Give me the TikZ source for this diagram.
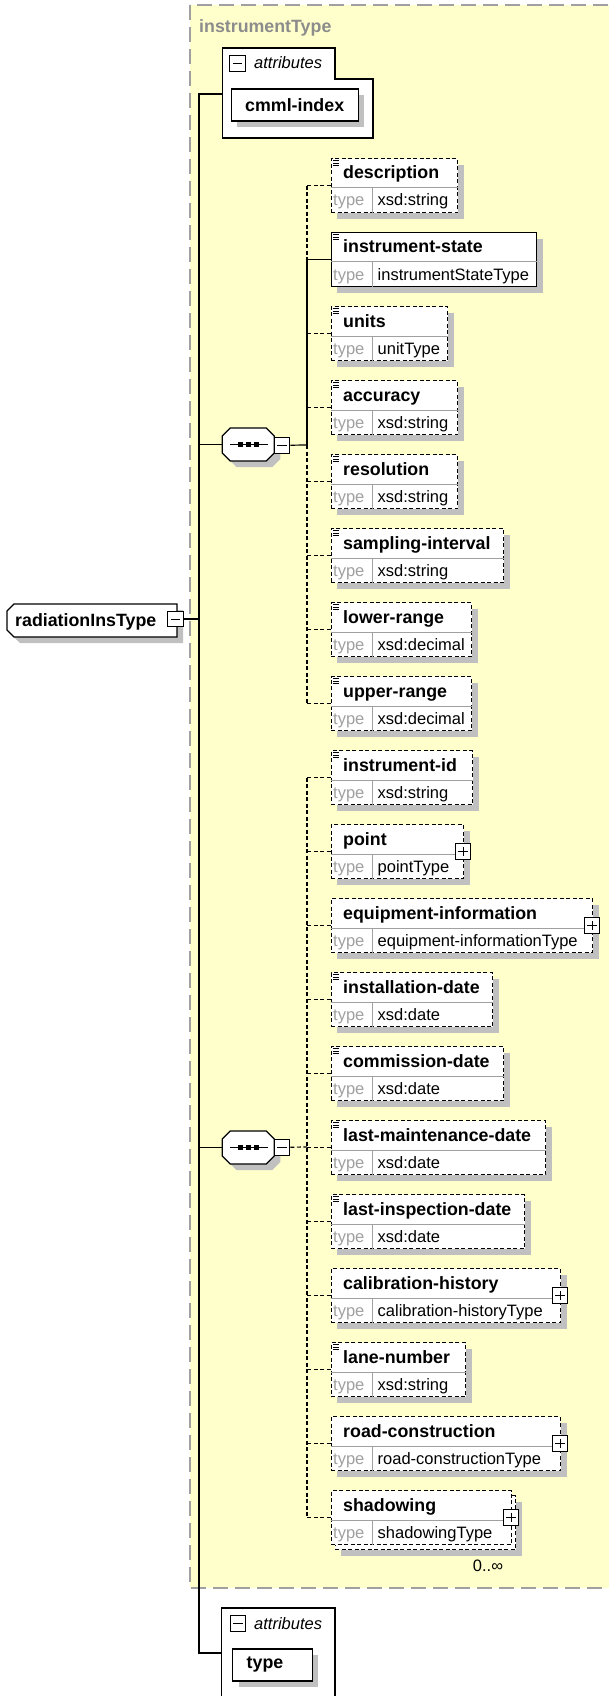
\documentclass[tikz,border=0pt]{standalone}
\usepackage{fontspec}
\setmainfont{Liberation Sans}
\usetikzlibrary{shadows}
\definecolor{groupfill}{HTML}{FFFFCC}
\definecolor{groupedge}{HTML}{A0A0A0}
\definecolor{shadowgray}{HTML}{C0C0C0}
\definecolor{rulegray}{HTML}{A0A0A0}
\definecolor{faint}{HTML}{A0A0A0}
\definecolor{titlegray}{HTML}{8C8C8C}

\newcommand\namefont{\fontsize{17.8}{20}\selectfont\bfseries}
\newcommand\typefont{\fontsize{16.5}{19}\selectfont}
% outline of a node with cut corners: node, left cut, right cut, offset
\newcommand\octpath[4]{([shift={(#4,#4)},xshift=#2pt]#1.north west) -- ([shift={(#4,#4)},xshift=-#3pt]#1.north east)
  -- ([shift={(#4,#4)},yshift=-#3pt]#1.north east) -- ([shift={(#4,#4)},yshift=#3pt]#1.south east)
  -- ([shift={(#4,#4)},xshift=-#3pt]#1.south east) -- ([shift={(#4,#4)},xshift=#2pt]#1.south west)
  -- ([shift={(#4,#4)},yshift=#2pt]#1.south west) -- ([shift={(#4,#4)},yshift=-#2pt]#1.north west) -- cycle}

\tikzset{
  reqline/.style={line width=1.2pt},
  optline/.style={line width=1.2pt, dash pattern=on 4pt off 2.5pt},
  grayshadow/.style={drop shadow={shadow xshift=6pt, shadow yshift=-6pt, fill=shadowgray, opacity=1}},
  elplain/.style={draw, fill=white, inner sep=0pt, anchor=north west},
  elbox/.style={elplain, grayshadow},
  attbox/.style={draw, fill=white, line width=1.2pt, minimum height=32pt, inner xsep=14pt, inner ysep=0pt, font=\namefont, grayshadow},
  pmbox/.style={draw, fill=white, line width=1pt, minimum size=15.5pt, inner sep=0pt},
  minusbox/.style={pmbox, path picture={
      \draw[line width=1pt] ([xshift=3pt]path picture bounding box.west) -- ([xshift=-3pt]path picture bounding box.east);}},
  plusbox/.style={pmbox, path picture={
      \draw[line width=1pt] ([xshift=3pt]path picture bounding box.west) -- ([xshift=-3pt]path picture bounding box.east);
      \draw[line width=1pt] ([yshift=-3pt]path picture bounding box.north) -- ([yshift=3pt]path picture bounding box.south);}},
  octfrm/.style={line width=1.2pt, fill=white},
  hull/.style={inner sep=0pt, outer sep=0pt},
  txt/.style={anchor=base west, inner sep=0pt}
}

\begin{document}
\begin{tikzpicture}[x=1pt,y=-1pt]
  \useasboundingbox (0,0) rectangle (608,1696);
  % complex type group
  \draw[groupedge, fill=groupfill, line width=1.6pt, dash pattern=on 15pt off 7pt] (190,5) rectangle (620,1588);
  \node[txt, font=\namefont, text=titlegray] (grp) at (199,33) {instrumentType};

  % root element
  \node[hull, minimum width=170pt, minimum height=33pt] (root) at (92,620.5) {};
  \fill[shadowgray] \octpath{root}{7}{0}{6};
  \draw[octfrm] \octpath{root}{7}{0}{0};
  \node[txt, font=\namefont] (rootlbl) at (15,626) {radiationInsType};
  \node[minusbox] (rootm) at (175.5,619) {};

  % attributes on top
  \draw[line width=1.2pt, fill=white] (222.7,48) -- (335,48) -- (335,79) -- (373,79) -- (373,138) -- (222.7,138) -- cycle;
  \node[minusbox] (am1) at (237.7,63.3) {};
  \node[txt, font=\typefont\itshape] (at1) at (254,69) {attributes};
  \node[attbox] (ci) at (294.7,105) {cmml-index};

  % attributes at the bottom
  \draw[line width=1.2pt, fill=white] (221.7,1699) -- (221.7,1608) -- (335,1608) -- (335,1699);
  \node[minusbox] (am2) at (238,1623.3) {};
  \node[txt, font=\typefont\itshape] (at2) at (254,1629) {attributes};
  \node[attbox, text width=51.6pt] (tp) at (272.5,1665) {type};

  % sequences
  \node[hull, minimum width=52pt, minimum height=33pt] (seq1) at (248.3,444.5) {};
  \node[hull, minimum width=52pt, minimum height=33pt] (seq2) at (248.3,1147.5) {};
  \foreach \s in {seq1,seq2}{
    \fill[shadowgray] \octpath{\s}{8}{8}{6};
    \draw[octfrm] \octpath{\s}{8}{8}{0};
    \draw[line width=1.2pt] ([xshift=8pt]\s.west) -- ([xshift=-6pt]\s.east);
    \foreach \d in {-8,0,8}
      \fill ([xshift=\d pt]\s.center) +(-2.5,-2.5) rectangle +(2.5,2.5);
  }
  \node[minusbox] (m1) at (282.2,445.3) {};
  \node[minusbox] (m2) at (282.2,1147.3) {};

  % child elements
  \foreach \i/\nm/\vt/\rx/\knd/\ls in {
    0/description/xsd:string/457/s/optline,
    1/instrument-state/instrumentStateType/536/s/reqline,
    2/units/unitType/447/s/optline,
    3/accuracy/xsd:string/457/s/optline,
    4/resolution/xsd:string/457/s/optline,
    5/sampling-interval/xsd:string/503/s/optline,
    6/lower-range/xsd:decimal/471/s/optline,
    7/upper-range/xsd:decimal/471/s/optline,
    8/instrument-id/xsd:string/472/s/optline,
    9/point/pointType/463/c/optline,
    10/equipment-information/equipment-informationType/592/c/optline,
    11/installation-date/xsd:date/492/s/optline,
    12/commission-date/xsd:date/503/s/optline,
    13/last-maintenance-date/xsd:date/545/s/optline,
    14/last-inspection-date/xsd:date/524/s/optline,
    15/calibration-history/calibration-historyType/560/c/optline,
    16/lane-number/xsd:string/465/s/optline,
    17/road-construction/road-constructionType/560/c/optline,
    18/shadowing/shadowingType/511/m/optline}{
    \pgfmathsetmacro\tp{158+74*\i}
    \pgfmathsetmacro\bw{\rx-330.5}
    \def\bx{elbox}
    \if m\knd
      \node[elbox, \ls, minimum width=\bw pt, minimum height=54pt] (bk\i) at (334.5,\tp+5) {};
      \def\bx{elplain}
    \fi
    \node[\bx, \ls, minimum width=\bw pt, minimum height=54pt] (el\i) at (330.5,\tp) {};
    \draw[rulegray, line width=1pt] ([yshift=-30pt]el\i.north west) -- ([yshift=-30pt]el\i.north east);
    \draw[rulegray, line width=1pt] ([xshift=42pt,yshift=-30pt]el\i.north west) -- ([xshift=42pt]el\i.south west);
    \node[txt, font=\namefont] (nm\i) at (343,\tp+21) {\nm};
    \node[txt, font=\typefont, text=faint] (tl\i) at (333,\tp+48) {type};
    \node[txt, font=\typefont] (vl\i) at (377.5,\tp+48) {\vt};
    \if s\knd
      \foreach \k in {0,1,2}
        \draw[line width=0.8pt] (333,\tp+2.5+2.5*\k) -- (339,\tp+2.5+2.5*\k);
    \else
      \node[plusbox] (px\i) at (\rx,\tp+27.5) {};
    \fi
  }
  \node[anchor=base, inner sep=0pt, font=\typefont] (occ) at (488,1571) {0..∞};

  % connectors
  \coordinate (attr1) at (222.7,94);
  \coordinate (attr2) at (221.7,1653);
  \coordinate (trunk) at (199,619);
  \coordinate (bus1) at (307,445);
  \coordinate (bus2) at (307,1147);
  \draw[reqline] (attr1) -- (attr1 -| trunk) -- (attr2 -| trunk) -- (attr2);
  \draw[reqline] (rootm) -- (trunk);
  \draw[reqline] (trunk |- seq1) -- (seq1);
  \draw[reqline] (trunk |- seq2) -- (seq2);
  \draw[reqline] (m1) -- (bus1);
  \draw[optline] (m2) -- (bus2);
  \draw[optline] (bus1 |- el0.west) -- (bus1 |- el1.west);
  \draw[reqline] (bus1 |- el1.west) -- (bus1);
  \draw[optline] (bus1) -- (bus1 |- el7.west);
  \draw[optline] (bus2 |- el8.west) -- (bus2 |- el18.west);
  \foreach \i in {0,2,3,4,5,6,7}
    \draw[optline] (el\i.west -| bus1) -- (el\i.west);
  \draw[reqline] (el1.west -| bus1) -- (el1.west);
  \foreach \i in {8,...,18}
    \draw[optline] (el\i.west -| bus2) -- (el\i.west);
\end{tikzpicture}
\end{document}
